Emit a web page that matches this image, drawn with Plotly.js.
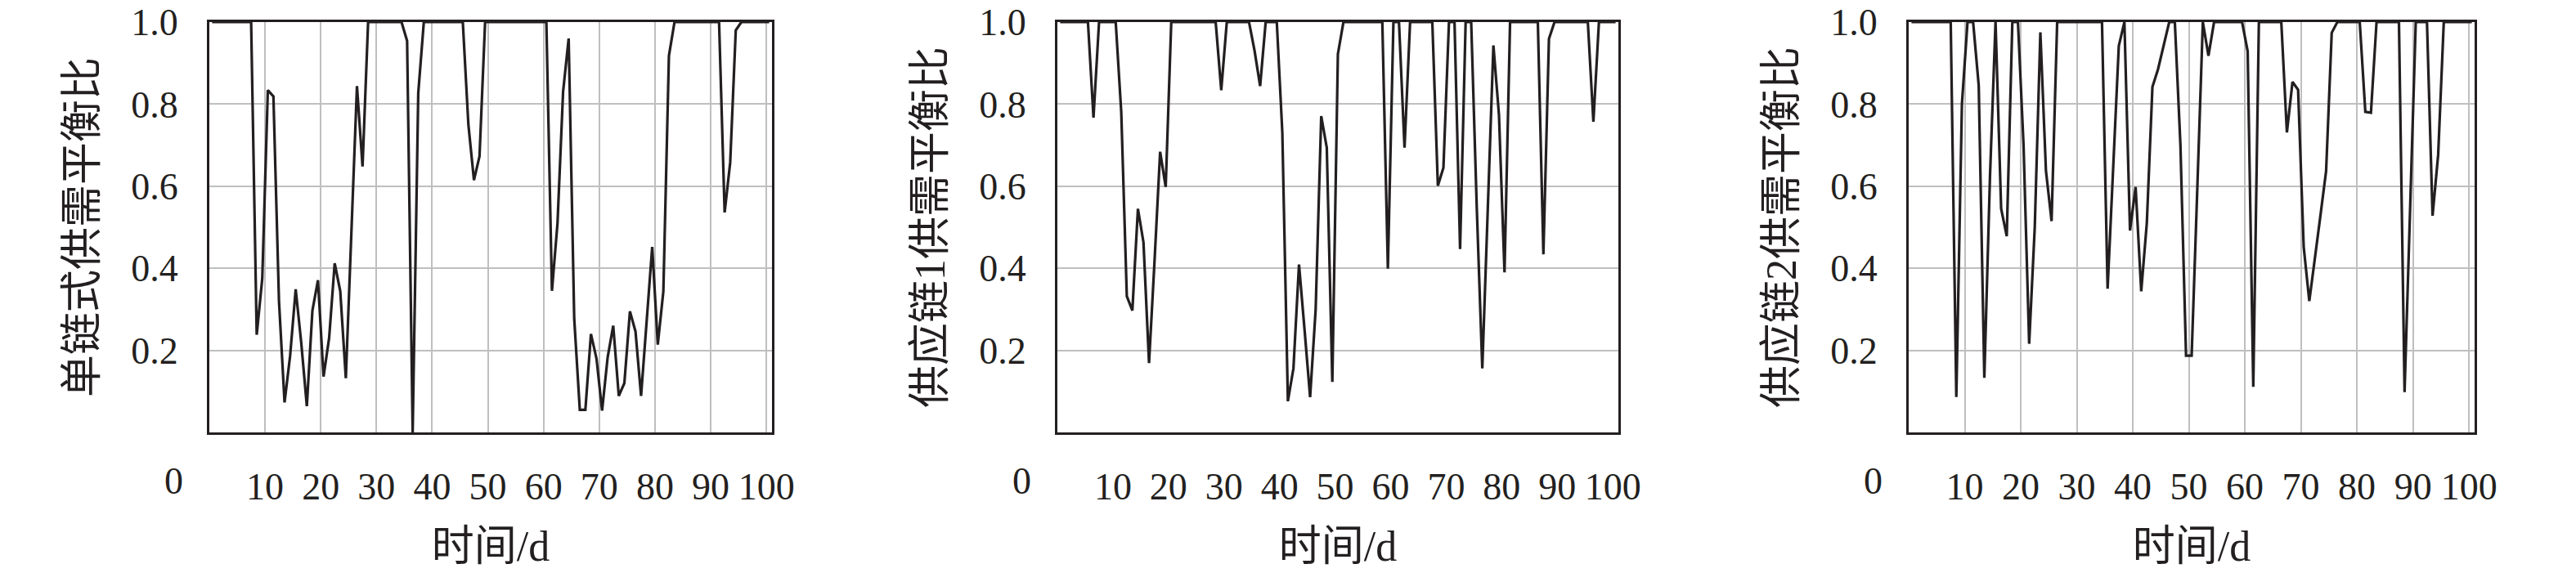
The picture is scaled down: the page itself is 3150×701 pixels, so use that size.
<!DOCTYPE html>
<html>
<head>
<meta charset="utf-8">
<script src="https://cdn.plot.ly/plotly-3.0.1.min.js"></script>
<style>html,body{margin:0;padding:0;background:#fff;}#chart{width:3150px;height:701px;}</style>
</head>
<body>
<div id="chart"></div>
<script>
// sample times (mid-day of each day index 0..100)
const time = [];
for (let d = 0; d <= 100; d++) time.push(d + 0.5);

// 单链式供需平衡比
const singleChain = [
  1, 1, 1, 1, 1, 1, 1, 1,
  0.238, 0.375, 0.834, 0.819, 0.32, 0.073, 0.187, 0.349, 0.218, 0.064,
  0.297, 0.371, 0.136, 0.23, 0.412, 0.344, 0.132, 0.49, 0.844, 0.648,
  1, 1, 1, 1, 1, 1, 1,
  0.954, 0.0, 0.827,
  1, 1, 1, 1, 1, 1, 1, 1,
  0.75, 0.615, 0.673,
  1, 1, 1, 1, 1, 1, 1, 1, 1, 1, 1, 1,
  0.345, 0.51, 0.83, 0.96, 0.277, 0.055, 0.055, 0.24, 0.18, 0.053,
  0.183, 0.26, 0.089, 0.12, 0.295, 0.246, 0.089, 0.28, 0.452, 0.214,
  0.344, 0.918,
  1, 1, 1, 1, 1, 1, 1, 1, 1,
  0.536, 0.658, 0.98,
  1, 1, 1, 1, 1, 1
];

// 供应链1供需平衡比
const chain1 = [
  1, 1, 1, 1, 1, 1,
  0.767,
  1, 1, 1, 1,
  0.78, 0.332, 0.297, 0.545, 0.463, 0.169, 0.42, 0.684, 0.598,
  1, 1, 1, 1, 1, 1, 1, 1, 1,
  0.834,
  1, 1, 1, 1, 1,
  0.93, 0.844,
  1, 1, 1,
  0.73, 0.076, 0.156, 0.409, 0.25, 0.086, 0.3, 0.771, 0.694, 0.123, 0.922,
  1, 1, 1, 1, 1, 1, 1, 1,
  0.399,
  1, 1,
  0.694,
  1, 1, 1, 1, 1,
  0.601, 0.645,
  1, 1,
  0.447,
  1, 1,
  0.55, 0.156, 0.55, 0.943, 0.774, 0.39,
  1, 1, 1, 1, 1, 1,
  0.434, 0.959,
  1, 1, 1, 1, 1, 1, 1,
  0.757,
  1, 1, 1, 1
];

// 供应链2供需平衡比
const chain2 = [
  1, 1, 1, 1, 1, 1, 1, 1,
  0.086, 0.80,
  1, 1,
  0.845, 0.133, 0.62,
  1,
  0.545, 0.478,
  1, 1,
  0.7, 0.216, 0.5, 0.975, 0.637, 0.515,
  1, 1, 1, 1, 1, 1, 1, 1, 1,
  0.35, 0.63, 0.942,
  1,
  0.492, 0.598, 0.344, 0.51, 0.842, 0.885, 0.94,
  1, 1,
  0.7, 0.187, 0.187, 0.59,
  1,
  0.918,
  1, 1, 1, 1, 1, 1,
  0.929, 0.111,
  1, 1, 1, 1, 1,
  0.731, 0.854, 0.835, 0.452, 0.32, 0.42, 0.53, 0.637, 0.974,
  1, 1, 1, 1, 1,
  0.781, 0.779,
  1, 1, 1, 1, 1,
  0.098, 0.55,
  1, 1, 1,
  0.528, 0.677,
  1, 1, 1, 1, 1, 1
];

const series = [singleChain, chain1, chain2];
const yTitles = ['单链式供需平衡比', '供应链1供需平衡比', '供应链2供需平衡比'];
const xTitle = '时间/d';
const xTickVals = [10, 20, 30, 40, 50, 60, 70, 80, 90, 100];
const yTickVals = [0.2, 0.4, 0.6, 0.8, 1.0];
const yTickText = ['0.2', '0.4', '0.6', '0.8', '1.0'];
const originLabel = '0';

// layout geometry (pixels)
const W = 3150, H = 701;
const boxes = [[256, 944], [1293, 1979], [2334, 3026]];
const plotTop = 27, plotBottom = 529;
const showXGrid = [true, false, true];

const ink = '#231f20';
const gridCol = '#bfbfbf';
const serif = 'Liberation Serif, Times New Roman, Noto Sans CJK SC, serif';
const titleFont = 'Liberation Serif, Noto Sans CJK SC, serif';

const traces = [];
const layout = {
  width: W, height: H,
  margin: {l: 0, r: 0, t: 0, b: 0, pad: 0},
  paper_bgcolor: '#ffffff',
  plot_bgcolor: '#ffffff',
  showlegend: false,
  annotations: []
};

series.forEach((vals, i) => {
  const n = i === 0 ? '' : String(i + 1);
  traces.push({
    type: 'scatter', mode: 'lines',
    x: time, y: vals,
    xaxis: 'x' + n, yaxis: 'y' + n,
    line: {color: ink, width: 3.2},
    hoverinfo: 'skip'
  });
  const [l, r] = boxes[i];
  layout['xaxis' + n] = {
    domain: [l / W, r / W],
    anchor: 'y' + n,
    range: [0, 101],
    tickmode: 'array', tickvals: xTickVals,
    showgrid: showXGrid[i], gridcolor: gridCol, gridwidth: 2,
    zeroline: false,
    showline: true, linecolor: ink, linewidth: 3, mirror: true,
    ticks: '',
    ticklabelstandoff: 24,
    tickfont: {family: serif, size: 46, color: ink},
    title: {text: xTitle, font: {family: titleFont, size: 52, color: ink}, standoff: 30},
    fixedrange: true
  };
  layout['yaxis' + n] = {
    domain: [1 - plotBottom / H, 1 - plotTop / H],
    anchor: 'x' + n,
    range: [0, 1],
    tickmode: 'array', tickvals: yTickVals, ticktext: yTickText,
    showgrid: true, gridcolor: gridCol, gridwidth: 2,
    zeroline: false,
    showline: true, linecolor: ink, linewidth: 3, mirror: true,
    ticks: '',
    ticklabelstandoff: 26,
    tickfont: {family: serif, size: 46, color: ink},
    title: {text: yTitles[i], font: {family: titleFont, size: 52, color: ink}, standoff: 26},
    fixedrange: true
  };
  layout.annotations.push({
    xref: 'paper', yref: 'paper',
    x: (l - 30) / W, xanchor: 'right',
    y: 1 - 588 / H, yanchor: 'middle',
    text: originLabel, showarrow: false,
    font: {family: serif, size: 46, color: ink}
  });
});

Plotly.newPlot('chart', traces, layout, {staticPlot: true, displayModeBar: false});
</script>
</body>
</html>
